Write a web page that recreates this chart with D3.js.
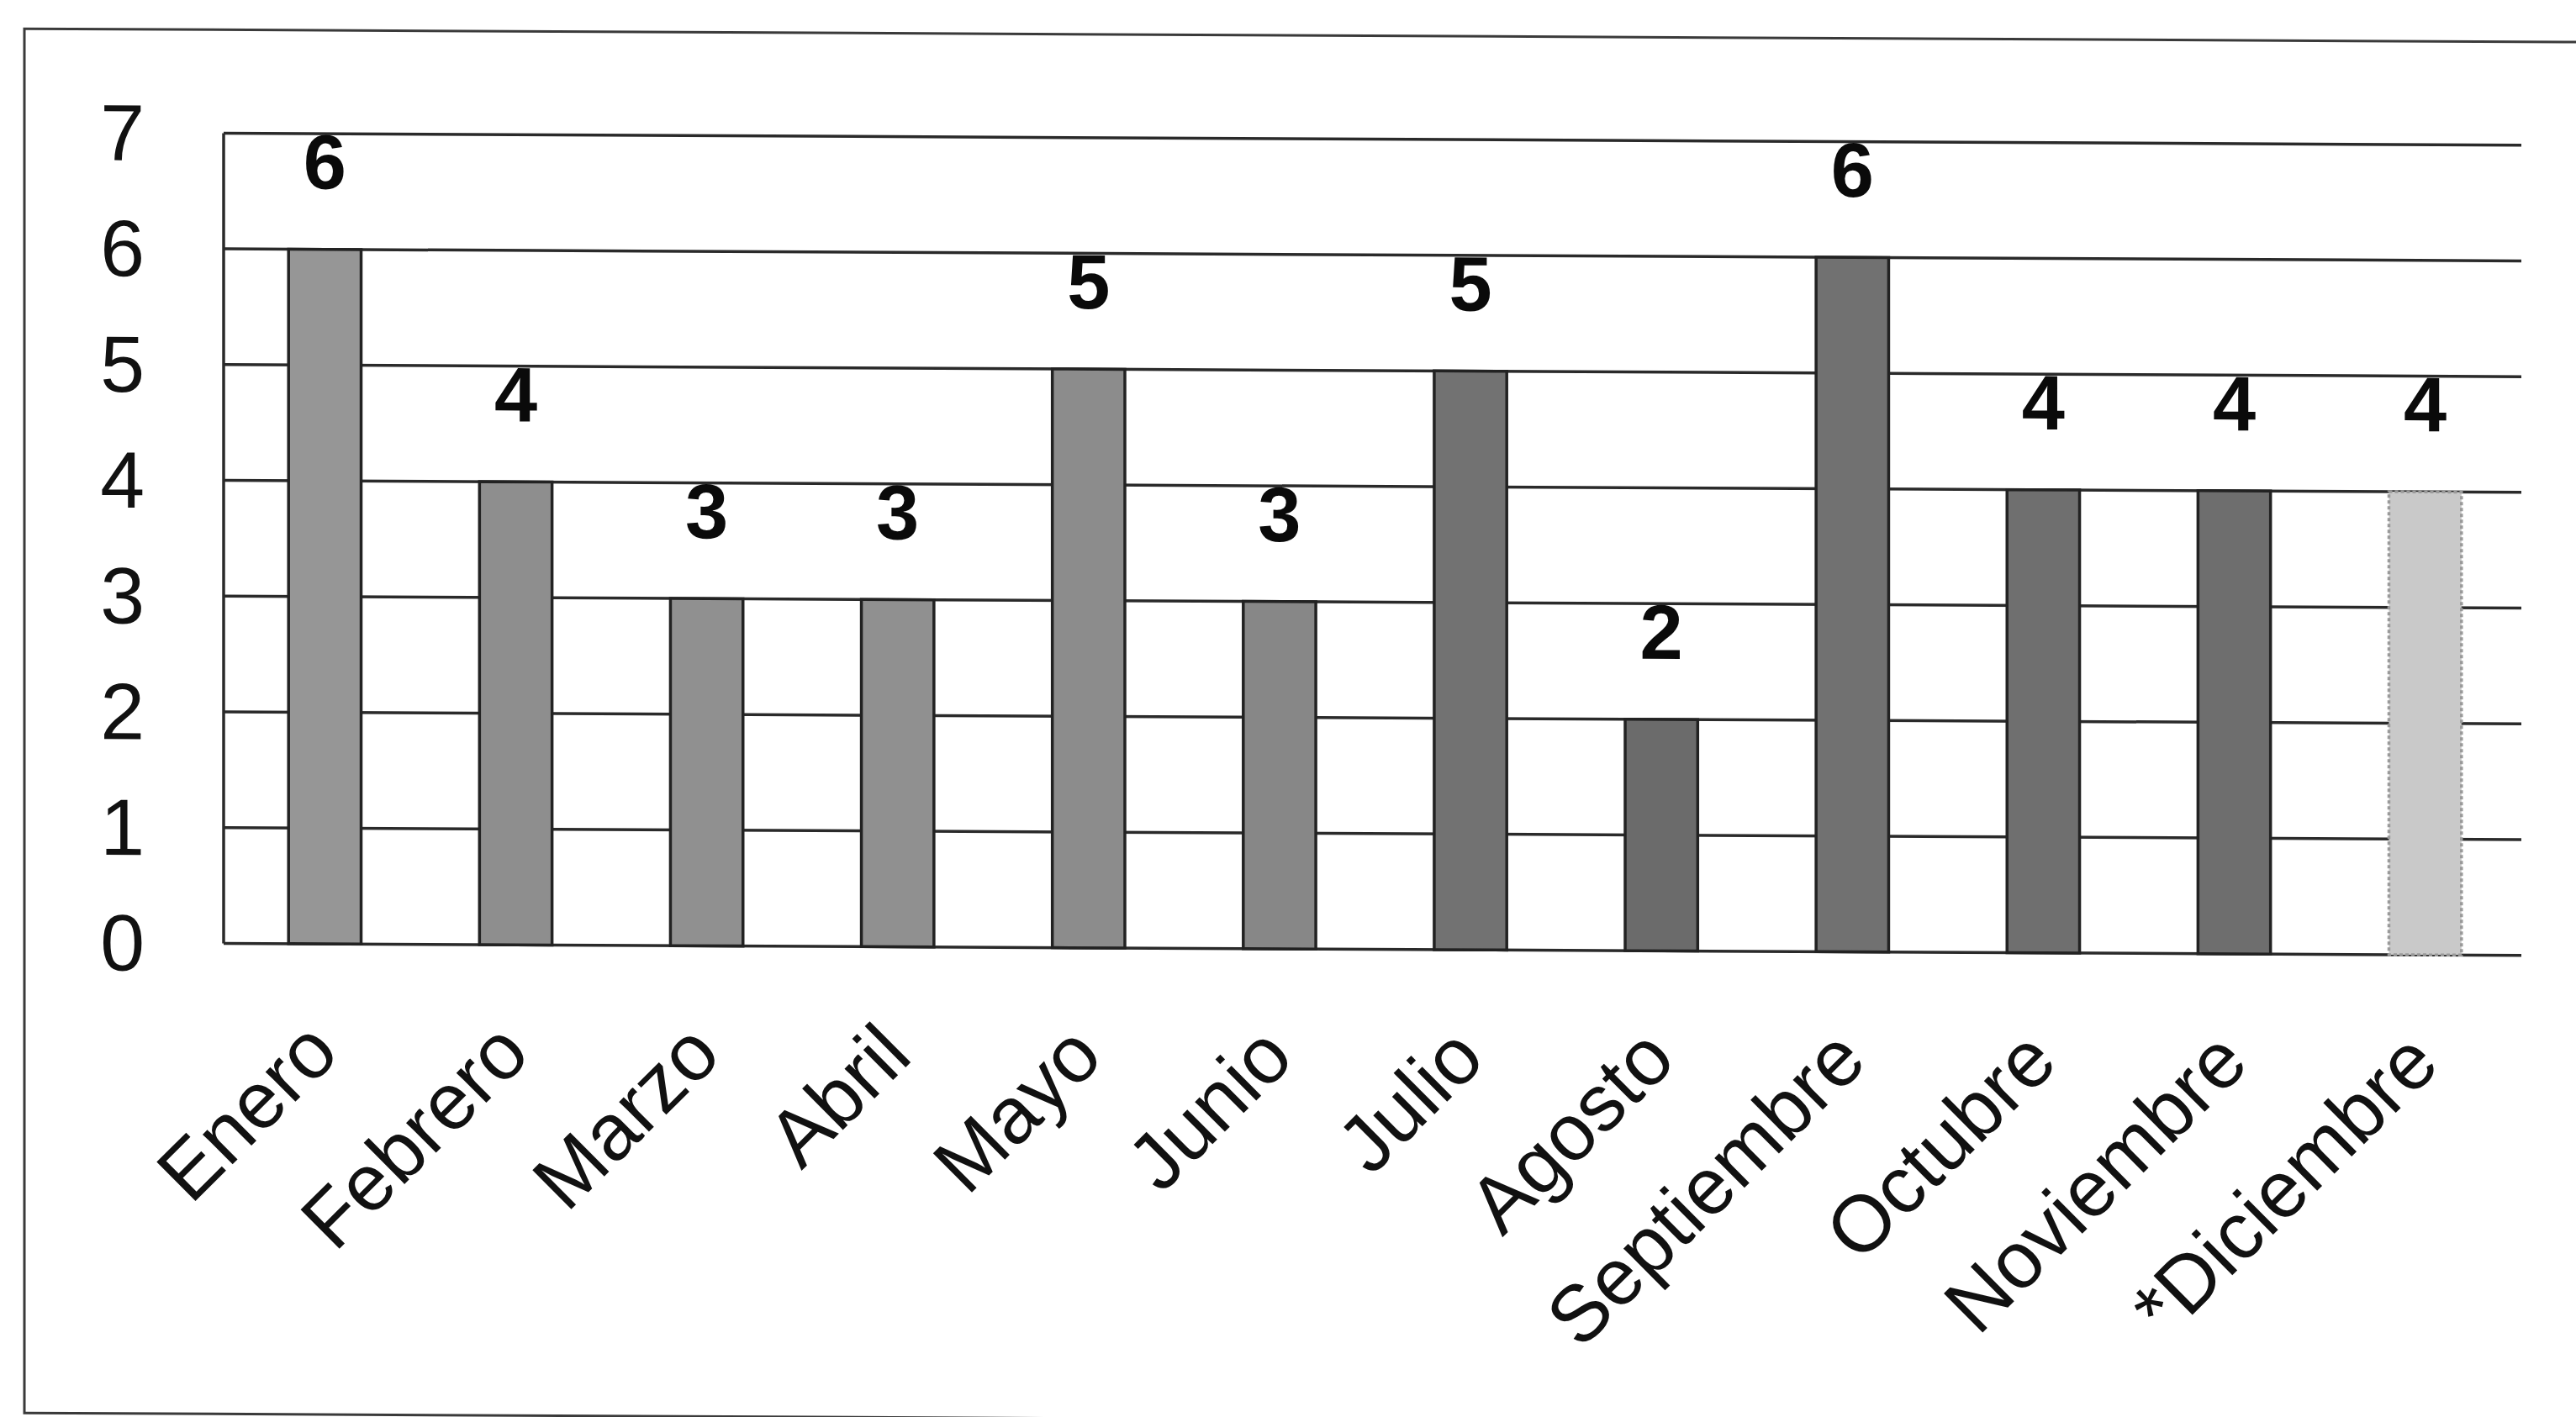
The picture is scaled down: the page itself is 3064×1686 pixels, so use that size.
<!DOCTYPE html>
<html>
<head>
<meta charset="utf-8">
<script src="https://cdn.jsdelivr.net/npm/d3@7"></script>
<style>
  html, body { margin: 0; padding: 0; background: #ffffff; }
  svg { display: block; }
</style>
</head>
<body>
<svg id="chart" width="3064" height="1686"></svg>
<script>
// ---- data ----
const months = ["Enero", "Febrero", "Marzo", "Abril", "Mayo", "Junio", "Julio", "Agosto", "Septiembre", "Octubre", "Noviembre", "*Diciembre"];
const values = [6, 4, 3, 3, 5, 3, 5, 2, 6, 4, 4, 4];
const yTicks = [0, 1, 2, 3, 4, 5, 6, 7];

// ---- styles ----
const barColor = d3.scaleOrdinal()
  .domain(months)
  .range(["#969696", "#8e8e8e", "#909090", "#909090", "#8c8c8c", "#878787",
          "#727272", "#6b6b6b", "#717171", "#6f6f6f", "#6e6e6e", "#c9c9c9"]);
const font = "'Liberation Sans', Arial, Helvetica, sans-serif";

const svg = d3.select("#chart");
const root = svg.append("g").attr("transform", "skewY(0.3)");

// outer frame
root.append("rect")
  .attr("x", 29).attr("y", 34)
  .attr("width", 3120).attr("height", 1647)
  .attr("fill", "none").attr("stroke", "#3a3a3a").attr("stroke-width", 3);

const x = d3.scaleBand().domain(months).range([266, 3005])
  .paddingInner(0.62).paddingOuter(0.34);
const y = d3.scaleLinear().domain([0, 7]).range([1121, 157]);
const gridEnd = x.range()[1] - 6;

// gridlines
root.append("g").selectAll("line").data(yTicks).join("line")
  .attr("x1", x.range()[0]).attr("x2", gridEnd)
  .attr("y1", d => y(d)).attr("y2", d => y(d))
  .attr("stroke", "#2a2a2a").attr("stroke-width", 3.5);

// left axis line
root.append("line")
  .attr("x1", x.range()[0]).attr("x2", x.range()[0])
  .attr("y1", y(7)).attr("y2", y(0))
  .attr("stroke", "#2a2a2a").attr("stroke-width", 3.5);

// y tick labels
root.append("g").selectAll("text").data(yTicks).join("text")
  .attr("x", 172).attr("y", d => y(d))
  .attr("text-anchor", "end").attr("dominant-baseline", "central")
  .attr("font-family", font).attr("font-size", 95).attr("fill", "#111")
  .text(d => d);

// bars
const data = months.map((m, i) => ({ m, v: values[i] }));
root.append("g").selectAll("rect").data(data).join("rect")
  .attr("x", d => x(d.m)).attr("width", x.bandwidth())
  .attr("y", d => y(d.v)).attr("height", d => y(0) - y(d.v))
  .attr("fill", d => barColor(d.m))
  .attr("stroke", d => d.m === "*Diciembre" ? "#9a9a9a" : "#222")
  .attr("stroke-width", 3.5)
  .attr("stroke-dasharray", d => d.m === "*Diciembre" ? "4,3" : null);

// value labels
root.append("g").selectAll("text").data(data).join("text")
  .attr("x", d => x(d.m) + x.bandwidth() / 2)
  .attr("y", d => y(d.v) - 72)
  .attr("text-anchor", "middle")
  .attr("font-family", font).attr("font-weight", "bold").attr("font-size", 92)
  .attr("fill", "#0a0a0a")
  .text(d => d.v);

// x category labels, rotated
root.append("g").selectAll("text").data(months).join("text")
  .attr("transform", d => `translate(${x(d) + x.bandwidth() / 2 + 20},1254) rotate(-45)`)
  .attr("text-anchor", "end")
  .attr("font-family", font).attr("font-size", 95).attr("fill", "#111")
  .text(d => d);
</script>
</body>
</html>
